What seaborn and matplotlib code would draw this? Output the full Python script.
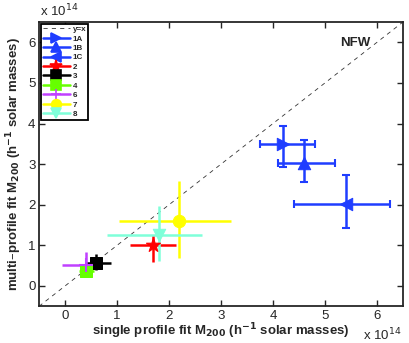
import matplotlib
matplotlib.use("Agg")
import matplotlib.pyplot as plt
import seaborn as sns
import pandas as pd
import numpy as np
from matplotlib.lines import Line2D

labels = ["1A", "1B", "1C", "2", "3", "4", "6", "7", "8"]
x_single = [4.2, 4.6, 5.4, 1.7, 0.6, 0.4, 0.4, 2.2, 1.8]
x_lo = [3.75, 4.1, 4.4, 1.25, 0.4, 0.26, -0.05, 1.03, 0.81]
x_hi = [4.8, 5.2, 6.25, 2.13, 0.88, 0.56, 0.58, 3.19, 2.63]
y_multi = [3.5, 3.03, 2.02, 1.02, 0.57, 0.36, 0.52, 1.6, 1.25]
y_lo = [2.92, 2.57, 1.43, 0.58, 0.40, 0.23, 0.35, 0.68, 0.62]
y_hi = [3.95, 3.59, 2.74, 1.25, 0.79, 0.47, 0.83, 2.59, 1.97]
markers = [">", "^", "<", "*", "s", "s", "+", "o", "v"]
colors = ["#1f3dff", "#1f3dff", "#1f3dff", "#ff0000", "#000000", "#66ff00",
          "#c040ff", "#ffff00", "#7fffd9"]
caps = [3, 3, 3, 0, 0, 0, 0, 0, 0]
ticks = [0, 1, 2, 3, 4, 5, 6]

sns.set_style("ticks")
plt.rcParams['font.family'] = ['Liberation Sans', 'DejaVu Sans']

df = pd.DataFrame({"label": labels, "x": x_single, "y": y_multi})

fig = plt.figure(figsize=(4.09, 3.43), dpi=100)
ax = fig.add_axes([0.0954, 0.107, 0.89, 0.829])

ax.plot([-0.5, 6.5], [-0.5, 6.5], ls=(0, (5, 5)), color="#333333", lw=0.6, zorder=1)

handles = [Line2D([], [], ls=(0, (5, 5)), color="#333333", lw=0.6, label="y=x")]
for i, lab in enumerate(labels):
    ax.errorbar(x_single[i], y_multi[i],
                xerr=[[x_single[i] - x_lo[i]], [x_hi[i] - x_single[i]]],
                yerr=[[y_multi[i] - y_lo[i]], [y_hi[i] - y_multi[i]]],
                fmt="none", ecolor=colors[i], elinewidth=1.8, capsize=caps[i],
                capthick=1.5, zorder=2)
    ms = 7 if markers[i] != "*" else 8.5
    handles.append(Line2D([], [], color=colors[i], lw=1.8, marker=markers[i],
                          markersize=ms, markeredgecolor=colors[i],
                          markeredgewidth=1.2, label=lab))
    sub = df[df["label"] == lab]
    if markers[i] == "+":
        sns.scatterplot(data=sub, x="x", y="y", marker="+", color=colors[i],
                        s=100, linewidth=1.5, legend=False, ax=ax, zorder=3)
    else:
        sns.scatterplot(data=sub, x="x", y="y", marker=markers[i], color=colors[i],
                        s=110 if markers[i] == "*" else 80, edgecolor=colors[i],
                        legend=False, ax=ax, zorder=3)

ax.set_xlim(-0.5, 6.5)
ax.set_ylim(-0.5, 6.5)
ax.set_xticks(ticks)
ax.set_yticks(ticks)
ax.tick_params(direction="in", top=True, right=True, length=4, width=1,
               labelsize=9.5, pad=2.5)
for s in ax.spines.values():
    s.set_linewidth(1.3)
    s.set_visible(True)

ax.set_xlabel(r"single profile fit M$_{\mathbf{200}}$ (h$^{\mathbf{-1}}$ solar masses)",
              fontsize=9.5, fontweight="bold", labelpad=0)
ax.set_ylabel(r"multi–profile fit M$_{\mathbf{200}}$ (h$^{\mathbf{-1}}$ solar masses)",
              fontsize=9.5, fontweight="bold", labelpad=3)

fig.text(0.098, 0.952, r"x 10$^{14}$", fontsize=9.5)
fig.text(0.888, 0.008, r"x 10$^{14}$", fontsize=9.5)
ax.text(5.87, 5.98, "NFW", fontsize=9.5, fontweight="bold", ha="right", va="center")

leg = ax.legend(handles=handles, loc="upper left",
                prop={"weight": "bold", "size": 5.8},
                frameon=True, fancybox=False, edgecolor="black",
                borderaxespad=0.2, handlelength=3.4, labelspacing=0.22,
                borderpad=0.25, handletextpad=0.3)
leg.get_frame().set_linewidth(1.3)
leg.get_frame().set_alpha(1)

fig.savefig("out.png", dpi=100)
